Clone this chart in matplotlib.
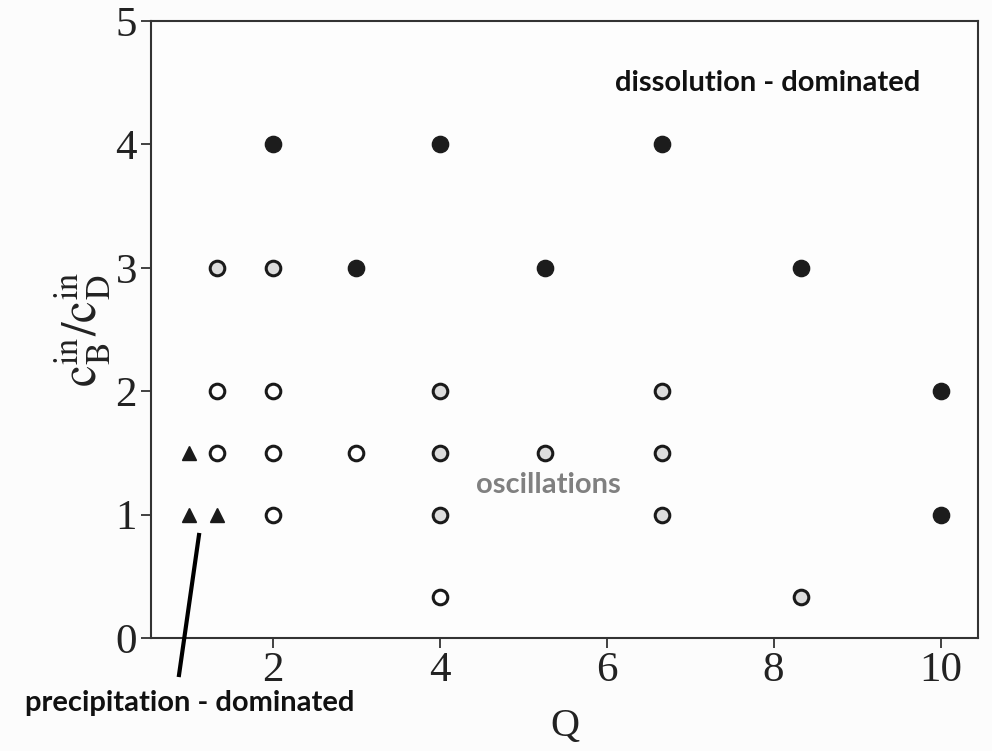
import matplotlib
matplotlib.use("Agg")
import matplotlib.pyplot as plt

plt.rcParams['mathtext.fontset'] = 'stix'

# Data (Q, cB/cD) by regime
prec_q = [1.0, 1.0, 1.333]
prec_r = [1.5, 1.0, 1.0]

steady_q = [1.333, 2.0, 1.333, 2.0, 3.0, 2.0, 4.0]
steady_r = [2.0, 2.0, 1.5, 1.5, 1.5, 1.0, 0.333]

osc_q = [1.333, 2.0, 4.0, 6.667, 4.0, 5.26, 6.667, 4.0, 6.667, 8.333]
osc_r = [3.0, 3.0, 2.0, 2.0, 1.5, 1.5, 1.5, 1.0, 1.0, 0.333]

diss_q = [2.0, 4.0, 6.667, 3.0, 5.26, 8.333, 10.0, 10.0]
diss_r = [4.0, 4.0, 4.0, 3.0, 3.0, 3.0, 2.0, 1.0]

xticks = [2, 4, 6, 8, 10]
yticks = [0, 1, 2, 3, 4, 5]

W, H = 992, 751
fig = plt.figure(figsize=(W / 100, H / 100), dpi=100, facecolor='#fcfcfc')
ax = fig.add_axes([0.1522, 0.1505, 0.986 - 0.1522, 0.972 - 0.1505])
ax.set_facecolor('#fdfdfd')

ms = 10.5
ax.plot(prec_q, prec_r, linestyle='none', marker='^', ms=ms, color='#1a1a1a', mec='#1a1a1a')
ax.plot(steady_q, steady_r, linestyle='none', marker='o', ms=ms, mfc='white', mec='#1a1a1a', mew=2.2)
ax.plot(osc_q, osc_r, linestyle='none', marker='o', ms=ms, mfc='#dcdcdc', mec='#1a1a1a', mew=2.2)
ax.plot(diss_q, diss_r, linestyle='none', marker='o', ms=ms + 1.2, mfc='#1c1c1c', mec='#1c1c1c', mew=1)

ax.set_xlim(0.54, 10.45)
ax.set_ylim(0, 5)
ax.set_xticks(xticks)
ax.set_yticks(yticks)
ax.set_xticklabels([str(t) for t in xticks], fontfamily='Liberation Serif', fontsize=31, color='#222222')
ax.set_yticklabels([str(t) for t in yticks], fontfamily='Liberation Serif', fontsize=31, color='#222222')
ax.tick_params(direction='out', length=7, width=1.3, color='#333333', pad=3)
for s in ax.spines.values():
    s.set_linewidth(1.5)
    s.set_color('#333333')

ax.set_xlabel('Q', fontfamily='Liberation Serif', fontsize=29, color='#222222', labelpad=13)
ax.set_ylabel(r'$\mathrm{c_B^{in}/c_D^{in}}$', fontsize=35, color='#222222', labelpad=2)


def fpos(x, y):
    return x / W, 1 - y / H


fig.text(*fpos(768, 83), 'dissolution - dominated', fontfamily='Lato',
         fontweight='bold', fontsize=21, color='#111111', ha='center', va='center')
fig.text(*fpos(548, 485), 'oscillations', fontfamily='Lato',
         fontweight='bold', fontsize=21, color='#808080', ha='center', va='center')
fig.text(*fpos(190, 703), 'precipitation - dominated', fontfamily='Lato',
         fontweight='bold', fontsize=21, color='#111111', ha='center', va='center')
# pointer line from the label to the triangles
fig.add_artist(plt.Line2D([fpos(199, 535)[0], fpos(179, 675)[0]],
                          [fpos(199, 535)[1], fpos(179, 675)[1]],
                          transform=fig.transFigure, color='black', lw=3))

fig.savefig('out.png', dpi=100, facecolor=fig.get_facecolor())
